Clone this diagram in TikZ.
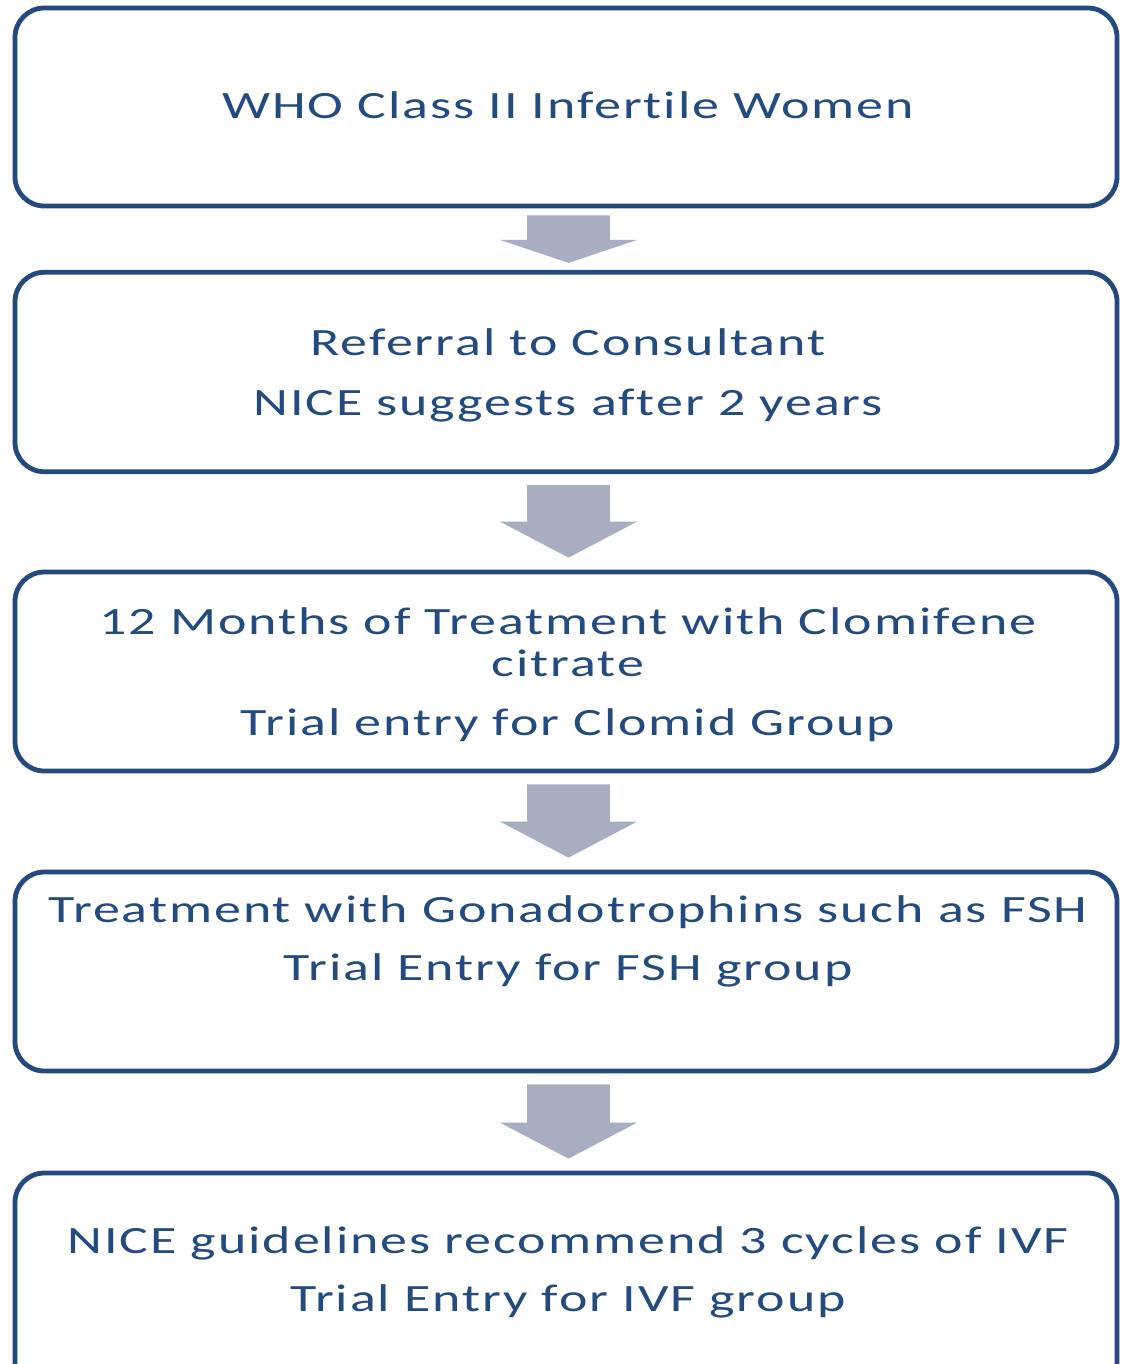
\documentclass[tikz,border=0pt]{standalone}
\usepackage{fontspec}
\setmainfont{Carlito}[FakeStretch=1.395, LetterSpace=5, Ligatures={NoCommon}]
\usetikzlibrary{calc}
\definecolor{boxline}{HTML}{23497E}
\definecolor{textblue}{HTML}{244B80}
\definecolor{arrowfill}{HTML}{A7AEC1}

% block arrow between two coordinates; #3 = height of the head
\newcommand\flowarrow[3]{%
  \fill[arrowfill] let \p1=(#1), \p2=(#2) in
    (\x1-31.1pt,\y1) -- (\x1+31.1pt,\y1) -- (\x1+31.1pt,\y2+#3)
    -- (\x1+51.4pt,\y2+#3) -- (\x1,\y2) -- (\x1-51.4pt,\y2+#3)
    -- (\x1-31.1pt,\y2+#3) -- cycle;}

\begin{document}
\begin{tikzpicture}[x=0.75pt,y=-0.75pt,
  box/.style={draw=boxline, line width=3.6pt, rounded corners=22pt, fill=white,
    minimum width=826.5pt, inner sep=0pt},
  linetext/.style={anchor=base, text=textblue, inner sep=0pt,
    font=\fontsize{29}{31}\selectfont}]

\clip (0,0) rectangle (1122,1364);
\fill[white] (0,0) rectangle (1122,1364);

% boxes
\node[box, minimum height=148.5pt]   (b1) at (566,107)    {};
\node[box, minimum height=149.6pt]   (b2) at (566,372)    {};
\node[box, minimum height=149.25pt]  (b3) at (566,671.5)  {};
\node[box, minimum height=149.25pt]  (b4) at (566,971.5)  {};
\node[box, minimum height=185.25pt]  (b5) at (566,1296.5) {};

% texts
\node[linetext] (t1)  at (568,118)  {WHO Class II Infertile Women};
\node[linetext] (t2a) at (568,355)  {Referral to Consultant};
\node[linetext] (t2b) at (568,415)  {NICE suggests after 2 years};
\node[linetext] (t3a) at (568,634)  {12 Months of Treatment with Clomifene};
\node[linetext] (t3b) at (568,676)  {citrate};
\node[linetext] (t3c) at (568,735)  {Trial entry for Clomid Group};
\node[linetext] (t4a) at (568,922)  {Treatment with Gonadotrophins such as FSH};
\node[linetext] (t4b) at (568,980)  {Trial Entry for FSH group};
\node[linetext] (t5a) at (568,1253) {NICE guidelines recommend 3 cycles of IVF};
\node[linetext] (t5b) at (568,1311) {Trial Entry for IVF group};

% arrow end points
\coordinate (a1s) at ($(b1.south)+(2.5,7)$);
\coordinate (a1e) at ($(b2.north)+(2.5,-7)$);
\coordinate (a2s) at ($(b2.south)+(2.5,11)$);
\coordinate (a2e) at ($(b3.north)+(2.5,-12)$);
\coordinate (a3s) at ($(b3.south)+(2.5,11)$);
\coordinate (a3e) at ($(b4.north)+(2.5,-12)$);
\coordinate (a4s) at ($(b4.south)+(2.5,11)$);
\coordinate (a4e) at ($(b5.north)+(2.5,-12)$);

\flowarrow{a1s}{a1e}{17.25pt}
\flowarrow{a2s}{a2e}{27pt}
\flowarrow{a3s}{a3e}{27pt}
\flowarrow{a4s}{a4e}{27pt}
\end{tikzpicture}
\end{document}
